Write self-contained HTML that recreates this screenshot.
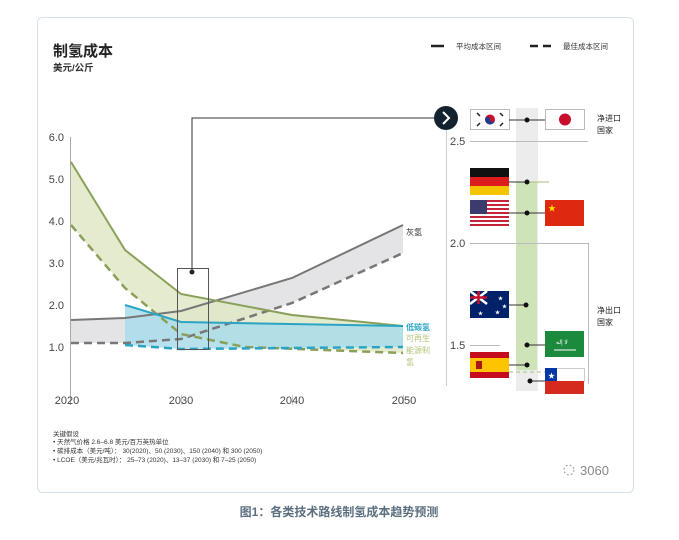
<!DOCTYPE html>
<html><head><meta charset="utf-8"><style>
body{margin:0;background:#fff;width:679px;height:535px;overflow:hidden;font-family:"Liberation Sans","Noto Sans CJK SC",sans-serif}
</style></head><body>
<svg width="679" height="535" viewBox="0 0 679 535" xmlns="http://www.w3.org/2000/svg" font-family="Liberation Sans, Noto Sans CJK SC, sans-serif">
<rect x="37.5" y="17.5" width="596" height="475" rx="5" fill="#fff" stroke="#d6e2e8"/>
<text x="53" y="56" font-size="15" font-weight="bold" fill="#222">制氢成本</text>
<text x="53" y="71" font-size="9.5" font-weight="bold" fill="#333">美元/公斤</text>
<line x1="431" y1="46" x2="444" y2="46" stroke="#222" stroke-width="2.5"/>
<text x="456" y="49" font-size="7.5" fill="#333">平均成本区间</text>
<line x1="530" y1="46" x2="555" y2="46" stroke="#222" stroke-width="2.5" stroke-dasharray="8,5"/>
<text x="563" y="49" font-size="7.5" fill="#333">最佳成本区间</text>
<!-- y axis -->
<line x1="70.5" y1="137" x2="70.5" y2="405" stroke="#aaa"/>
<g font-size="11" fill="#444" text-anchor="end">
<text x="64" y="141">6.0</text><text x="64" y="183">5.0</text><text x="64" y="225">4.0</text><text x="64" y="267">3.0</text><text x="64" y="309">2.0</text><text x="64" y="351">1.0</text></g>
<g stroke="#ccc"><line x1="181.5" y1="395" x2="181.5" y2="405"/><line x1="292.5" y1="395" x2="292.5" y2="405"/><line x1="403.5" y1="395" x2="403.5" y2="405"/></g>
<g font-size="11" fill="#444" text-anchor="middle">
<text x="67" y="404">2020</text><text x="181" y="404">2030</text><text x="292" y="404">2040</text><text x="404" y="404">2050</text></g>
<!-- gray band -->
<polygon points="71,320 125,318 181,311 292,278 403,225 403,253 292,303 181,339 125,343 71,343" fill="#e4e4e6"/>
<!-- green band -->
<polygon points="71,162 125,250 181,294 292,315 403,326 403,353 292,348 245,347 181,334 125,288 71,225" fill="#dfe8c6" opacity="0.85"/>
<!-- blue band -->
<polygon points="125,305 181,322 403,326 403,347 181,349 125,345" fill="#a9dcea" opacity="0.85"/>
<polyline points="71,320 125,318 181,311 292,278 403,225" fill="none" stroke="#777" stroke-width="2"/>
<polyline points="71,343 125,343 181,339 292,303 403,253" fill="none" stroke="#777" stroke-width="2.5" stroke-dasharray="8,5"/>
<polyline points="71,162 125,250 181,294 292,315 403,326" fill="none" stroke="#8aa05a" stroke-width="2"/>
<polyline points="71,225 125,288 181,334 245,347 403,353" fill="none" stroke="#8aa05a" stroke-width="2.5" stroke-dasharray="8,5"/>
<polyline points="125,305 181,322 403,326" fill="none" stroke="#2ba4c4" stroke-width="2"/>
<polyline points="125,345 181,349 403,347" fill="none" stroke="#2ba4c4" stroke-width="2.5" stroke-dasharray="8,5"/>
<rect x="177.5" y="268.5" width="31" height="81" fill="none" stroke="#555"/>
<circle cx="192" cy="272" r="2.5" fill="#222"/>
<polyline points="192,272 192,118 440,118" fill="none" stroke="#333"/>
<text x="406" y="235" font-size="8" fill="#333">灰氢</text>
<text x="406" y="330" font-size="8" fill="#2ba4c4" font-weight="bold">低碳氢</text>
<g font-size="8" fill="#b4c47c"><text x="406" y="341">可再生</text><text x="406" y="353">能源制</text><text x="406" y="365">氢</text></g>
<!-- right panel -->
<circle cx="446" cy="118" r="12" fill="#12222e"/>
<polyline points="443,112 449,118 443,124" fill="none" stroke="#fff" stroke-width="2"/>
<line x1="446.5" y1="130" x2="446.5" y2="386" stroke="#ccc"/>
<rect x="516" y="108" width="22" height="283" fill="#ececec"/>
<rect x="516" y="182" width="21" height="188" fill="#cfe3b8"/>
<g stroke="#bbb"><line x1="470" y1="141.5" x2="588" y2="141.5"/><line x1="470" y1="243.5" x2="588.5" y2="243.5"/><line x1="588.5" y1="243" x2="588.5" y2="384"/><line x1="470" y1="345.5" x2="500" y2="345.5"/></g>
<g font-size="11" fill="#444"><text x="450" y="145">2.5</text><text x="450" y="247">2.0</text><text x="450" y="349">1.5</text></g>
<g font-size="8" fill="#222"><text x="597" y="121">净进口</text><text x="597" y="133">国家</text><text x="597" y="313">净出口</text><text x="597" y="325">国家</text></g>
<!-- flags -->
<rect x="470.5" y="109.5" width="39" height="20" fill="#fff" stroke="#bbb"/><circle cx="490" cy="119.5" r="5" fill="#c8102e"/><path d="M485,119.5 a5,5 0 0 0 10,0 a2.5,2.5 0 0 1 -5,0 a2.5,2.5 0 0 0 -5,0z" fill="#1b3f8f"/>
<g stroke="#222" stroke-width="1.5"><line x1="477" y1="113" x2="480" y2="116"/><line x1="500" y1="113" x2="503" y2="116"/><line x1="477" y1="126" x2="480" y2="123"/><line x1="500" y1="126" x2="503" y2="123"/></g>
<rect x="545.5" y="109.5" width="39" height="20" fill="#fff" stroke="#bbb"/><circle cx="565" cy="119.5" r="6" fill="#c8102e"/>
<rect x="470" y="168" width="39" height="9" fill="#111"/><rect x="470" y="177" width="39" height="9" fill="#dd1d1d"/><rect x="470" y="186" width="39" height="9" fill="#f5c400"/>
<g><rect x="470" y="200" width="39" height="26" fill="#c3243a"/>
<g fill="#fff"><rect x="470" y="202" width="39" height="2"/><rect x="470" y="206" width="39" height="2"/><rect x="470" y="210" width="39" height="2"/><rect x="470" y="214" width="39" height="2"/><rect x="470" y="218" width="39" height="2"/><rect x="470" y="222" width="39" height="2"/></g>
<rect x="470" y="200" width="17" height="14" fill="#3c3b6e"/></g>
<rect x="545" y="200" width="39" height="26" fill="#de2910"/><text x="548" y="211" font-size="8" fill="#ffde00">★</text>
<rect x="470" y="291" width="39" height="27" fill="#012169"/><path d="M470,291 L487,304 M487,291 L470,304" stroke="#fff" stroke-width="2.5"/><path d="M478.5,291 V304 M470,297.5 H487" stroke="#c8102e" stroke-width="2.5"/>
<g fill="#fff" font-size="5"><text x="478" y="315">★</text><text x="498" y="300">★</text><text x="502" y="308">★</text><text x="495" y="314">★</text></g>
<rect x="545" y="331" width="39" height="26" fill="#1c8a3c"/><text x="556" y="344" font-size="6" fill="#fff">ﻻ إله</text><line x1="554" y1="350" x2="576" y2="350" stroke="#fff"/>
<rect x="470" y="352" width="39" height="26" fill="#c60b1e"/><rect x="470" y="358" width="39" height="14" fill="#ffc400"/><rect x="476" y="361" width="6" height="8" fill="#ad1519"/>
<rect x="545.5" y="368.5" width="39" height="13" fill="#fff" stroke="#ccc"/><rect x="545" y="381" width="39" height="13" fill="#d52b1e"/><rect x="545" y="368" width="12" height="13" fill="#0039a6"/><text x="548" y="378" font-size="7" fill="#fff">★</text>
<!-- connectors -->
<g stroke="#333" stroke-width="1"><line x1="509" y1="120" x2="545" y2="120"/><line x1="509" y1="182" x2="527" y2="182"/><line x1="509" y1="213" x2="545" y2="213"/><line x1="509" y1="305" x2="526" y2="305"/><line x1="527" y1="345" x2="545" y2="345"/><line x1="509" y1="365" x2="527" y2="365"/><line x1="530" y1="381" x2="545" y2="381"/></g>
<line x1="527" y1="182" x2="549" y2="182" stroke="#a3c07a"/>
<line x1="509" y1="372" x2="545" y2="372" stroke="#a3c07a" stroke-dasharray="4,3"/>
<g fill="#111"><circle cx="527" cy="120" r="2.5"/><circle cx="527" cy="182" r="2.5"/><circle cx="527" cy="213" r="2.5"/><circle cx="526" cy="305" r="2.5"/><circle cx="527" cy="345" r="2.5"/><circle cx="527" cy="365" r="2.5"/><circle cx="530" cy="381" r="2.5"/></g>
<!-- notes -->
<g font-size="6.5" fill="#333"><text x="53" y="436">关键假设</text><text x="53" y="444">• 天然气价格 2.6–6.8 美元/百万英热单位</text><text x="53" y="453">• 碳排成本（美元/吨）： 30(2020)、50 (2030)、150 (2040) 和 300 (2050)</text><text x="53" y="462">• LCOE（美元/兆瓦时）： 25–73 (2020)、13–37 (2030) 和 7–25 (2050)</text></g>
<circle cx="569" cy="470" r="5" fill="none" stroke="#999" stroke-dasharray="2,2"/>
<text x="580" y="475" font-size="13" fill="#888">3060</text>
<text x="339" y="516" font-size="12" font-weight="bold" fill="#5c6f80" text-anchor="middle">图1：各类技术路线制氢成本趋势预测</text>
</svg>
</body></html>
